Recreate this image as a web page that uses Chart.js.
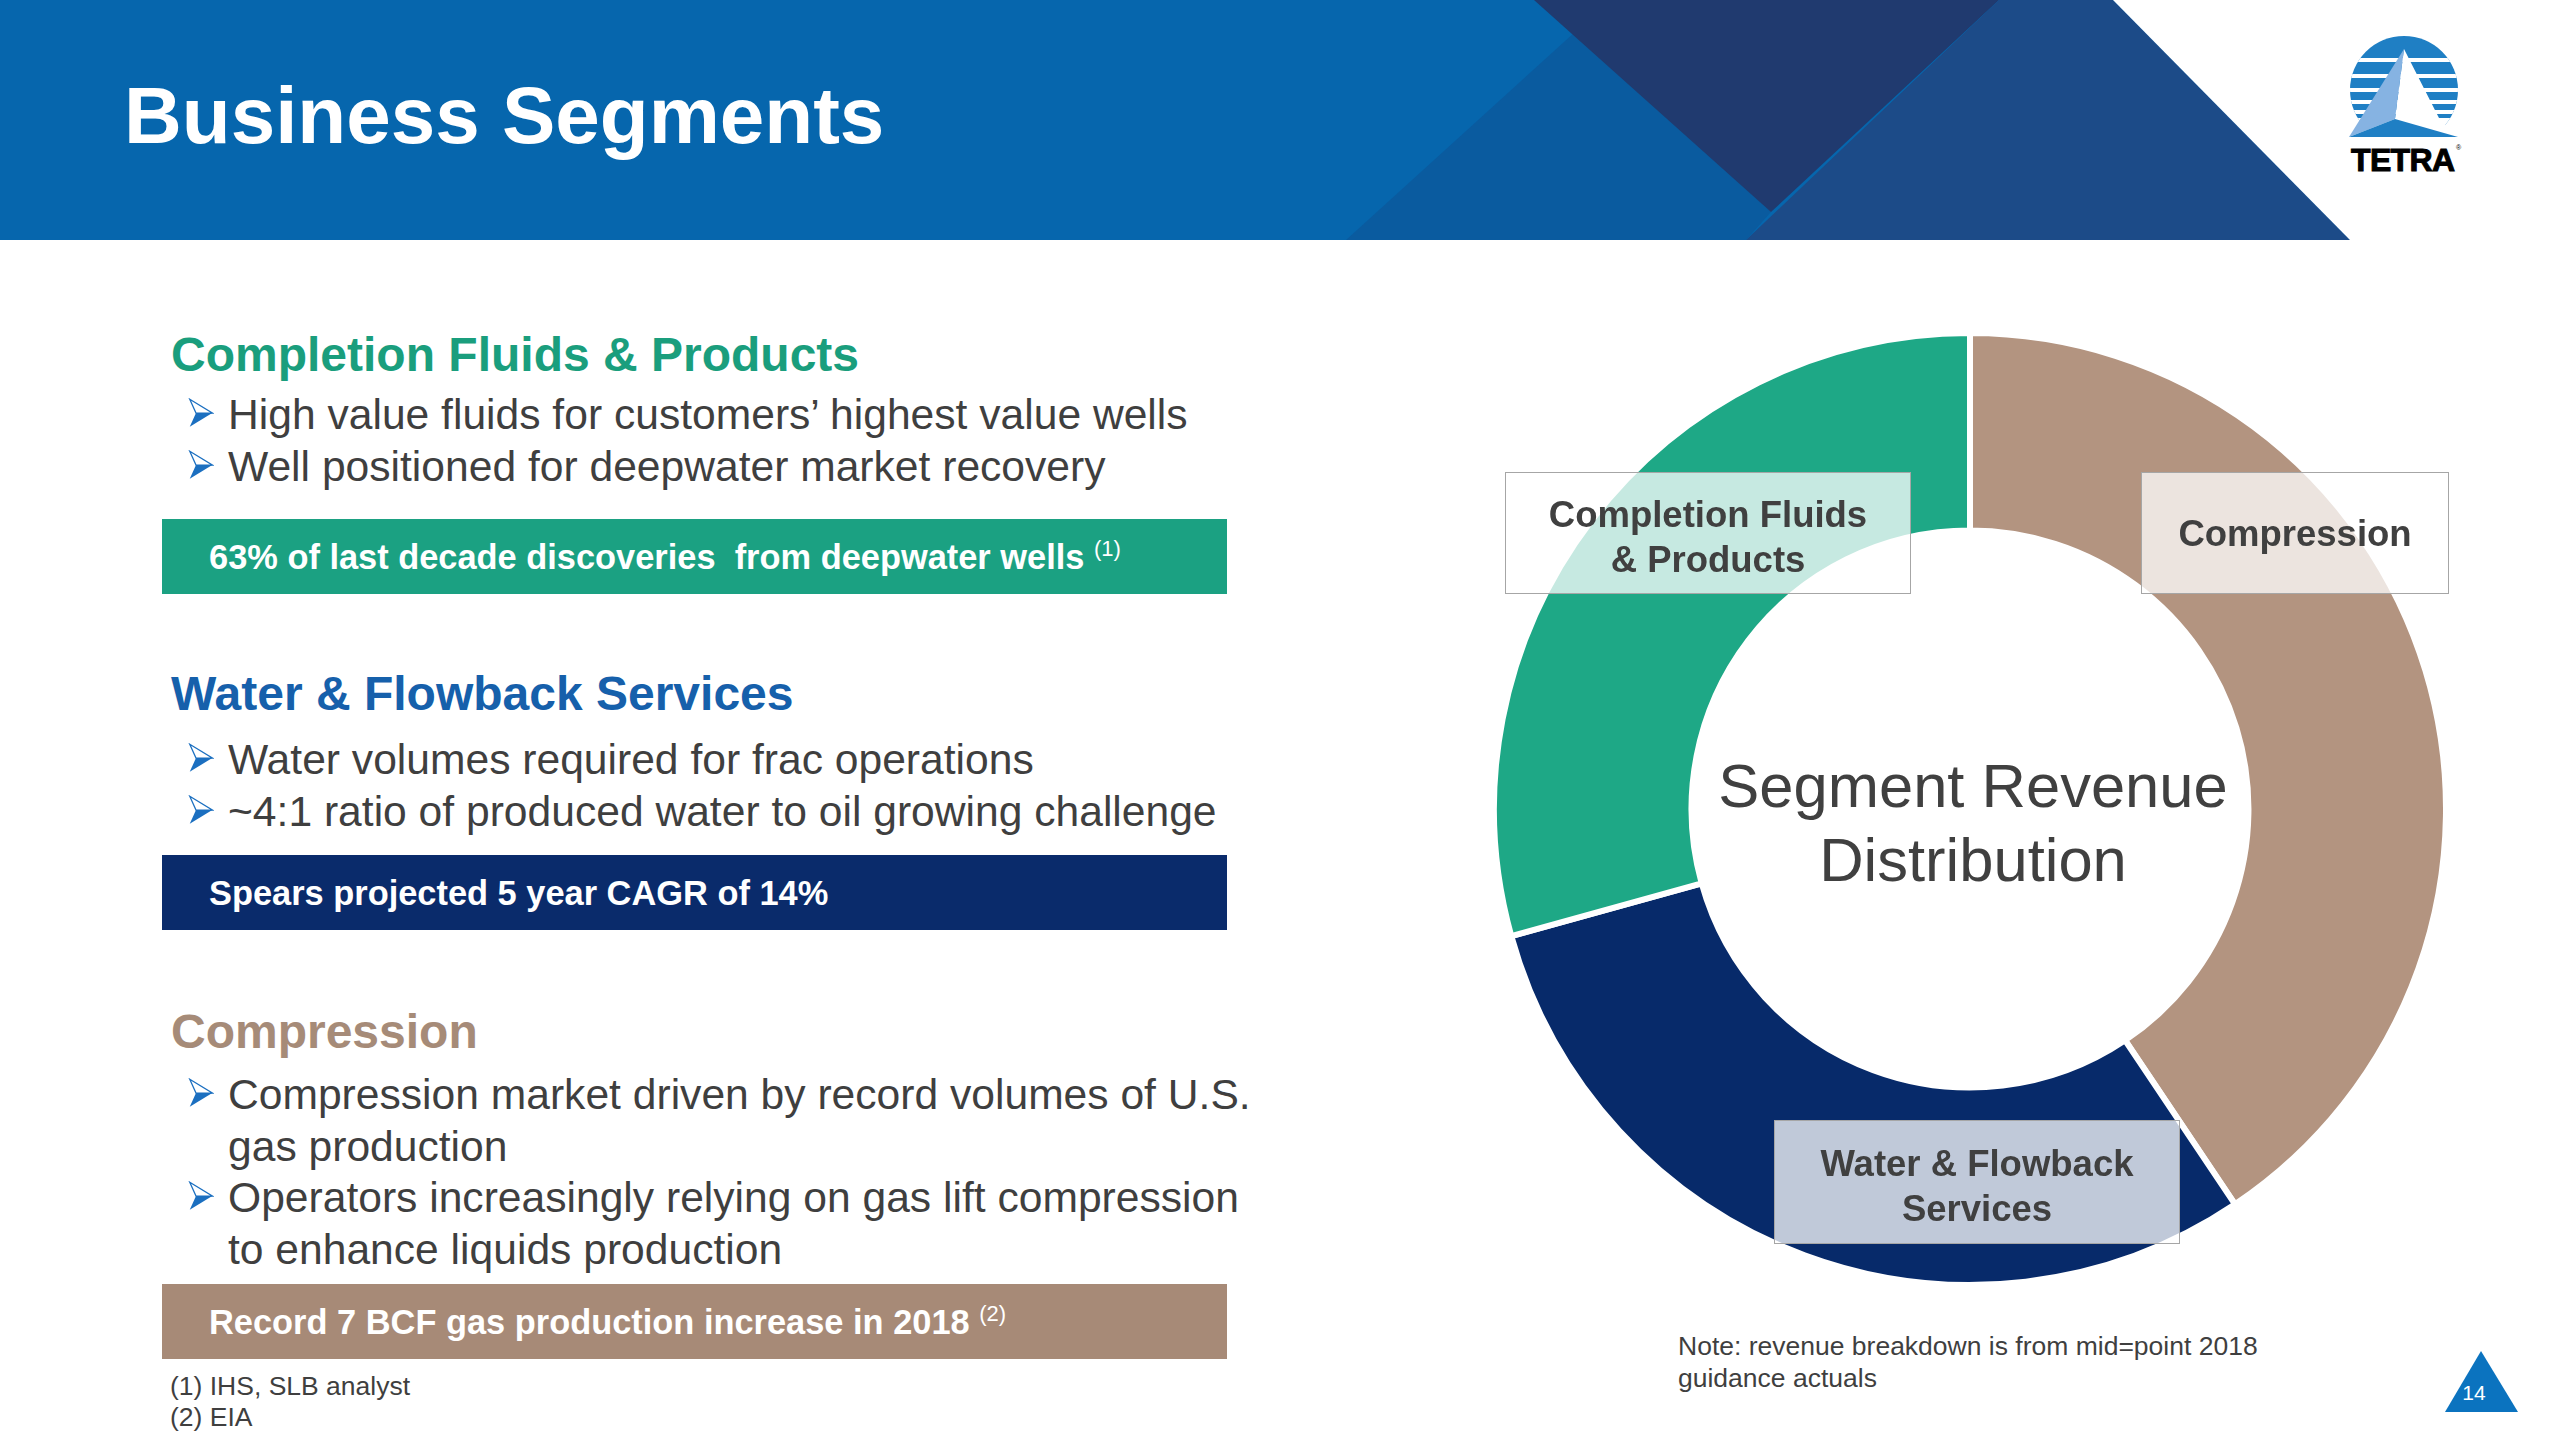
<!DOCTYPE html>
<html>
<head>
<meta charset="utf-8">
<title>Business Segments</title>
<script src="https://cdn.jsdelivr.net/npm/chart.js@4.4.1/dist/chart.umd.min.js"></script>
<style>
  body { margin: 0; width: 2559px; height: 1440px; background: #fff; overflow: hidden; position: relative;
         font-family: "Liberation Sans", Arial, sans-serif; color: #3f3f3f; }
  .abs { position: absolute; white-space: nowrap; line-height: 1; }
  .head { font-weight: bold; font-size: 48px; }
  .bul { font-size: 42.6px; left: 228px; }
  .arrow { position: absolute; left: 188px; width: 26px; height: 30px; }
  .box { position: absolute; left: 162px; width: 1065px; height: 75px; color: #fff; font-weight: bold; font-size: 34.4px; }
  .box span { position: absolute; left: 47px; top: 21px; line-height: 1; }
  .box sup { font-size: 22px; font-weight: normal; vertical-align: 13px; line-height: 0; }
  .lbl { position: absolute; border: 1.5px solid #a6a6a6; background: rgba(255,255,255,0.75); display: flex;
         align-items: center; justify-content: center; text-align: center; font-weight: bold; font-size: 36.5px;
         line-height: 45px; color: #404040; box-sizing: border-box; }
  .note { font-size: 26.5px; }
</style>
</head>
<body>

<svg class="abs" style="left:0;top:0" width="2559" height="240">
  <rect x="0" y="0" width="2350" height="240" fill="#0666ad"/>
  <polygon points="1346,240 1575,32 1771,212 1746,240" fill="#0a5b9f"/>
  <polygon points="1534,0 1999,0 1771,212" fill="#203a6f"/>
  <polygon points="1999,0 2113,0 2350,240 1746,240" fill="#1c4b88"/>
  <polygon points="2113,0 2559,0 2559,240 2350,240" fill="#fff"/>
  <defs><clipPath id="lc"><circle cx="2404" cy="90" r="54"/></clipPath></defs>
  <g clip-path="url(#lc)">
    <rect x="2340" y="30" width="130" height="100" fill="#1f7fc4"/>
    <rect x="2340" y="58" width="130" height="4" fill="#fff"/>
    <rect x="2340" y="74" width="130" height="4" fill="#fff"/>
    <rect x="2340" y="88" width="130" height="4" fill="#fff"/>
    <rect x="2340" y="100" width="130" height="4" fill="#fff"/>
    <rect x="2340" y="110" width="130" height="4" fill="#fff"/>
    <rect x="2340" y="118" width="130" height="14" fill="#fff"/>
  </g>
  <polygon points="2404,49 2395,119 2456,134 2440,120" fill="#fff"/>
  <polygon points="2404,49 2395,119 2349,137" fill="#86b3e2"/>
  <polygon points="2349,137 2395,119 2458,137" fill="#1f7fc4"/>
  <text x="2351" y="171" font-family="Liberation Sans" font-weight="bold" font-size="32" fill="#000" stroke="#000" stroke-width="1" textLength="104">TETRA</text>
  <text x="2456" y="150" font-family="Liberation Sans" font-size="7" fill="#000">®</text>
</svg>

<svg class="abs" style="left:2440px;top:1345px" width="84" height="72">
  <polygon points="41,6 5,67 78,67" fill="#0b73bf"/>
</svg>

<div class="abs" style="left:124px;top:76px;font-size:80px;font-weight:bold;color:#fff">Business Segments</div>

<div class="abs head" style="left:171px;top:331px;color:#1a9e7d">Completion Fluids &amp; Products</div>
<svg class="arrow" style="top:398px" viewBox="0 0 20 24"><polygon points="1,1 19,12 6,12" fill="#fff" stroke="#1b6fc0" stroke-width="1"/><polygon points="6,12 19,12 1,23" fill="#1b6fc0"/></svg>
<div class="abs bul" style="top:393px">High value fluids for customers’ highest value wells</div>
<svg class="arrow" style="top:450px" viewBox="0 0 20 24"><polygon points="1,1 19,12 6,12" fill="#fff" stroke="#1b6fc0" stroke-width="1"/><polygon points="6,12 19,12 1,23" fill="#1b6fc0"/></svg>
<div class="abs bul" style="top:445px">Well positioned for deepwater market recovery</div>
<div class="box" style="top:519px;background:#1ba182"><span>63% of last decade discoveries&nbsp; from deepwater wells <sup>(1)</sup></span></div>

<div class="abs head" style="left:171px;top:670px;color:#1660ab">Water &amp; Flowback Services</div>
<svg class="arrow" style="top:743px" viewBox="0 0 20 24"><polygon points="1,1 19,12 6,12" fill="#fff" stroke="#1b6fc0" stroke-width="1"/><polygon points="6,12 19,12 1,23" fill="#1b6fc0"/></svg>
<div class="abs bul" style="top:738px">Water volumes required for frac operations</div>
<svg class="arrow" style="top:795px" viewBox="0 0 20 24"><polygon points="1,1 19,12 6,12" fill="#fff" stroke="#1b6fc0" stroke-width="1"/><polygon points="6,12 19,12 1,23" fill="#1b6fc0"/></svg>
<div class="abs bul" style="top:790px">~4:1 ratio of produced water to oil growing challenge</div>
<div class="box" style="top:855px;background:#0a2b6b"><span>Spears projected 5 year CAGR of 14%</span></div>

<div class="abs head" style="left:171px;top:1008px;color:#a68b78">Compression</div>
<svg class="arrow" style="top:1078px" viewBox="0 0 20 24"><polygon points="1,1 19,12 6,12" fill="#fff" stroke="#1b6fc0" stroke-width="1"/><polygon points="6,12 19,12 1,23" fill="#1b6fc0"/></svg>
<div class="abs bul" style="top:1073px">Compression market driven by record volumes of U.S.</div>
<div class="abs bul" style="top:1125px">gas production</div>
<svg class="arrow" style="top:1181px" viewBox="0 0 20 24"><polygon points="1,1 19,12 6,12" fill="#fff" stroke="#1b6fc0" stroke-width="1"/><polygon points="6,12 19,12 1,23" fill="#1b6fc0"/></svg>
<div class="abs bul" style="top:1176px">Operators increasingly relying on gas lift compression</div>
<div class="abs bul" style="top:1228px">to enhance liquids production</div>
<div class="box" style="top:1284px;background:#a78a77"><span>Record 7 BCF gas production increase in 2018 <sup>(2)</sup></span></div>

<div class="abs note" style="left:170px;top:1373px">(1) IHS, SLB analyst</div>
<div class="abs note" style="left:170px;top:1404px">(2) EIA</div>
<div class="abs note" style="left:1678px;top:1333px">Note: revenue breakdown is from mid=point 2018</div>
<div class="abs note" style="left:1678px;top:1365px">guidance actuals</div>
<div class="abs" style="left:2454px;top:1382px;width:40px;text-align:center;font-size:21px;color:#fff">14</div>

<div style="position:absolute;left:1491px;top:330px;width:958px;height:958px">
  <canvas id="segChart"></canvas>
</div>

<div class="lbl" style="left:1505px;top:472px;width:406px;height:122px;padding-top:8px">Completion Fluids<br>&amp; Products</div>
<div class="lbl" style="left:2141px;top:472px;width:308px;height:122px">Compression</div>
<div class="lbl" style="left:1774px;top:1120px;width:406px;height:124px;padding-top:8px">Water &amp; Flowback<br>Services</div>

<script>
var segments = ['Compression', 'Water & Flowback Services', 'Completion Fluids & Products'];
var revenueShare = [40.6, 30.1, 29.3];
var segmentColors = ['#b39480', '#072a6a', '#1ea886'];
var centerLines = ['Segment Revenue', 'Distribution'];

var centerText = {
    id: 'centerText',
    afterDraw: function(chart) {
        var ctx = chart.ctx;
        var a = chart.chartArea;
        var cx = (a.left + a.right) / 2;
        var cy = (a.top + a.bottom) / 2;
        ctx.save();
        ctx.font = '61.5px "Liberation Sans", Arial, sans-serif';
        ctx.fillStyle = '#404040';
        ctx.textAlign = 'center';
        ctx.textBaseline = 'alphabetic';
        ctx.fillText(centerLines[0], cx + 3, cy - 2);
        ctx.fillText(centerLines[1], cx + 3, cy + 72);
        ctx.restore();
    }
};

var ctx = document.getElementById('segChart').getContext('2d');
var segChart = new Chart(ctx, {
    type: 'doughnut',
    data: {
        labels: segments,
        datasets: [{
            data: revenueShare,
            backgroundColor: segmentColors,
            borderColor: '#ffffff',
            borderWidth: 6
        }]
    },
    options: {
        responsive: true,
        maintainAspectRatio: false,
        animation: false,
        cutout: '58.5%',
        layout: { padding: 0 },
        plugins: {
            legend: { display: false },
            tooltip: { enabled: false }
        }
    },
    plugins: [centerText]
});
</script>
</body>
</html>
